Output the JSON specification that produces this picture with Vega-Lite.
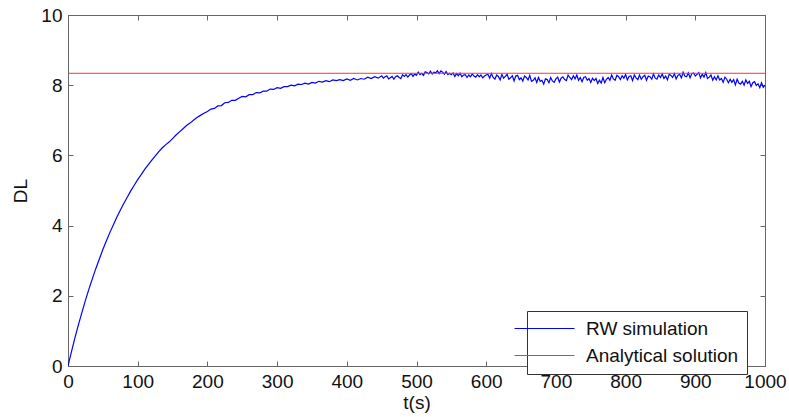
{
"$schema":"https://vega.github.io/schema/vega-lite/v6.json",
"width":697,"height":351,
"autosize":{"type":"none"},
"padding":{"left":68,"top":15,"right":24,"bottom":51},
"background":"white",
"config":{"font":"Liberation Sans","view":{"stroke":"#666","strokeWidth":1},
 "axis":{"grid":false,"domainColor":"#666","tickColor":"#666","labelColor":"#111","labelFontSize":19,"titleFontSize":19,"titleFontWeight":"normal","titleColor":"#111"}},
"datasets":{
"rw":[
{"t":0,"v":0},{"t":5,"v":0.41},{"t":10,"v":0.81},{"t":15,"v":1.18},{"t":20,"v":1.53},{"t":25,"v":1.87},{"t":30,"v":2.19},{"t":35,"v":2.49},{"t":40,"v":2.78},{"t":45,"v":3.05},{"t":50,"v":3.32},{"t":55,"v":3.56},{"t":60,"v":3.80},{"t":65,"v":4.02},{"t":70,"v":4.24},{"t":75,"v":4.44},{"t":80,"v":4.63},{"t":85,"v":4.81},{"t":90,"v":4.99},{"t":95,"v":5.15},{"t":100,"v":5.31},{"t":105,"v":5.45},{"t":110,"v":5.60},{"t":115,"v":5.73},{"t":120,"v":5.86},{"t":125,"v":5.98},{"t":130,"v":6.10},{"t":135,"v":6.21},{"t":140,"v":6.30},{"t":145,"v":6.38},{"t":150,"v":6.48},{"t":155,"v":6.58},{"t":160,"v":6.67},{"t":165,"v":6.76},{"t":170,"v":6.85},{"t":175,"v":6.92},{"t":180,"v":7.00},{"t":185,"v":7.08},{"t":190,"v":7.14},{"t":195,"v":7.20},
{"t":200,"v":7.25},{"t":205,"v":7.32},{"t":210,"v":7.34},{"t":215,"v":7.41},{"t":220,"v":7.42},{"t":225,"v":7.50},{"t":230,"v":7.51},{"t":235,"v":7.57},{"t":240,"v":7.57},{"t":245,"v":7.63},{"t":250,"v":7.68},{"t":255,"v":7.67},{"t":260,"v":7.73},{"t":265,"v":7.73},{"t":270,"v":7.79},{"t":275,"v":7.78},{"t":280,"v":7.83},{"t":285,"v":7.83},{"t":290,"v":7.89},{"t":295,"v":7.88},{"t":300,"v":7.93},{"t":305,"v":7.91},{"t":310,"v":7.96},{"t":315,"v":7.96},{"t":320,"v":8.00},{"t":325,"v":7.98},{"t":330,"v":8.03},{"t":335,"v":8.02},{"t":340,"v":8.06},{"t":345,"v":8.03},{"t":350,"v":8.08},{"t":355,"v":8.06},{"t":360,"v":8.11},{"t":365,"v":8.09},{"t":370,"v":8.13},{"t":375,"v":8.10},{"t":380,"v":8.15},{"t":385,"v":8.13},{"t":390,"v":8.16},{"t":395,"v":8.13},{"t":400,"v":8.18},{"t":405,"v":8.14},{"t":410,"v":8.19},{"t":415,"v":8.15},{"t":420,"v":8.19},{"t":425,"v":8.17},{"t":430,"v":8.23},{"t":435,"v":8.19},{"t":440,"v":8.24},{"t":445,"v":8.20},
{"t":450,"v":8.27},{"t":452.5,"v":8.20},{"t":455,"v":8.24},{"t":457.5,"v":8.27},{"t":460,"v":8.18},{"t":462.5,"v":8.21},{"t":465,"v":8.25},{"t":467.5,"v":8.17},{"t":470,"v":8.24},{"t":472.5,"v":8.27},{"t":475,"v":8.22},{"t":477.5,"v":8.19},{"t":480,"v":8.30},{"t":482.5,"v":8.25},{"t":485,"v":8.30},{"t":487.5,"v":8.23},{"t":490,"v":8.29},{"t":492.5,"v":8.33},{"t":495,"v":8.25},{"t":497.5,"v":8.32},{"t":500,"v":8.28},{"t":502.5,"v":8.37},{"t":505,"v":8.30},{"t":507.5,"v":8.34},{"t":510,"v":8.28},{"t":512.5,"v":8.38},{"t":515,"v":8.36},{"t":517.5,"v":8.32},{"t":520,"v":8.40},{"t":522.5,"v":8.32},{"t":525,"v":8.37},{"t":527.5,"v":8.35},{"t":530,"v":8.41},{"t":532.5,"v":8.33},{"t":535,"v":8.41},{"t":537.5,"v":8.37},{"t":540,"v":8.31},{"t":542.5,"v":8.39},{"t":545,"v":8.30},{"t":547.5,"v":8.34},{"t":550,"v":8.30},{"t":552.5,"v":8.35},{"t":555,"v":8.25},{"t":557.5,"v":8.33},{"t":560,"v":8.27},{"t":562.5,"v":8.34},{"t":565,"v":8.24},{"t":567.5,"v":8.29},{"t":570,"v":8.30},{"t":572.5,"v":8.22},{"t":575,"v":8.29},{"t":577.5,"v":8.24},{"t":580,"v":8.32},{"t":582.5,"v":8.26},{"t":585,"v":8.23},{"t":587.5,"v":8.30},{"t":590,"v":8.24},{"t":592.5,"v":8.29},{"t":595,"v":8.21},{"t":597.5,"v":8.26},{"t":600,"v":8.29},
{"t":602.5,"v":8.31},{"t":605,"v":8.20},{"t":607.5,"v":8.33},{"t":610,"v":8.22},{"t":612.5,"v":8.17},{"t":615,"v":8.29},{"t":617.5,"v":8.25},{"t":620,"v":8.15},{"t":622.5,"v":8.31},{"t":625,"v":8.20},{"t":627.5,"v":8.25},{"t":630,"v":8.31},{"t":632.5,"v":8.17},{"t":635,"v":8.21},{"t":637.5,"v":8.27},{"t":640,"v":8.12},{"t":642.5,"v":8.26},{"t":645,"v":8.28},{"t":647.5,"v":8.16},{"t":650,"v":8.21},{"t":652.5,"v":8.12},{"t":655,"v":8.26},{"t":657.5,"v":8.22},{"t":660,"v":8.15},{"t":662.5,"v":8.28},{"t":665,"v":8.11},{"t":667.5,"v":8.14},{"t":670,"v":8.21},{"t":672.5,"v":8.08},{"t":675,"v":8.22},{"t":677.5,"v":8.11},{"t":680,"v":8.14},{"t":682.5,"v":8.03},{"t":685,"v":8.18},{"t":687.5,"v":8.16},{"t":690,"v":8.07},{"t":692.5,"v":8.22},{"t":695,"v":8.12},{"t":697.5,"v":8.08},{"t":700,"v":8.18},
{"t":702.5,"v":8.23},{"t":705,"v":8.09},{"t":707.5,"v":8.20},{"t":710,"v":8.24},{"t":712.5,"v":8.16},{"t":715,"v":8.13},{"t":717.5,"v":8.29},{"t":720,"v":8.22},{"t":722.5,"v":8.16},{"t":725,"v":8.27},{"t":727.5,"v":8.18},{"t":730,"v":8.29},{"t":732.5,"v":8.14},{"t":735,"v":8.22},{"t":737.5,"v":8.10},{"t":740,"v":8.22},{"t":742.5,"v":8.24},{"t":745,"v":8.14},{"t":747.5,"v":8.19},{"t":750,"v":8.08},{"t":752.5,"v":8.20},{"t":755,"v":8.13},{"t":757.5,"v":8.19},{"t":760,"v":8.05},{"t":762.5,"v":8.14},{"t":765,"v":8.06},{"t":767.5,"v":8.22},{"t":770,"v":8.07},{"t":772.5,"v":8.17},{"t":775,"v":8.22},{"t":777.5,"v":8.14},{"t":780,"v":8.29},{"t":782.5,"v":8.18},{"t":785,"v":8.14},{"t":787.5,"v":8.28},{"t":790,"v":8.24},{"t":792.5,"v":8.16},{"t":795,"v":8.27},{"t":797.5,"v":8.20},{"t":800,"v":8.31},
{"t":802.5,"v":8.15},{"t":805,"v":8.25},{"t":807.5,"v":8.27},{"t":810,"v":8.13},{"t":812.5,"v":8.29},{"t":815,"v":8.21},{"t":817.5,"v":8.16},{"t":820,"v":8.29},{"t":822.5,"v":8.17},{"t":825,"v":8.24},{"t":827.5,"v":8.28},{"t":830,"v":8.14},{"t":832.5,"v":8.26},{"t":835,"v":8.24},{"t":837.5,"v":8.17},{"t":840,"v":8.32},{"t":842.5,"v":8.20},{"t":845,"v":8.17},{"t":847.5,"v":8.29},{"t":850,"v":8.22},{"t":852.5,"v":8.32},{"t":855,"v":8.19},{"t":857.5,"v":8.26},{"t":860,"v":8.15},{"t":862.5,"v":8.31},{"t":865,"v":8.28},{"t":867.5,"v":8.22},{"t":870,"v":8.33},{"t":872.5,"v":8.18},{"t":875,"v":8.28},{"t":877.5,"v":8.31},{"t":880,"v":8.21},{"t":882.5,"v":8.37},{"t":885,"v":8.26},{"t":887.5,"v":8.24},{"t":890,"v":8.35},{"t":892.5,"v":8.21},{"t":895,"v":8.33},{"t":897.5,"v":8.35},{"t":900,"v":8.26},
{"t":902.5,"v":8.31},{"t":905,"v":8.36},{"t":907.5,"v":8.21},{"t":910,"v":8.31},{"t":912.5,"v":8.23},{"t":915,"v":8.36},{"t":917.5,"v":8.19},{"t":920,"v":8.23},{"t":922.5,"v":8.29},{"t":925,"v":8.14},{"t":927.5,"v":8.24},{"t":930,"v":8.15},{"t":932.5,"v":8.27},{"t":935,"v":8.15},{"t":937.5,"v":8.19},{"t":940,"v":8.08},{"t":942.5,"v":8.23},{"t":945,"v":8.17},{"t":947.5,"v":8.07},{"t":950,"v":8.17},{"t":952.5,"v":8.08},{"t":955,"v":8.16},{"t":957.5,"v":8.01},{"t":960,"v":8.17},{"t":962.5,"v":8.06},{"t":965,"v":8.03},{"t":967.5,"v":8.11},{"t":970,"v":8.00},{"t":972.5,"v":8.15},{"t":975,"v":8.05},{"t":977.5,"v":8.11},{"t":980,"v":7.96},{"t":982.5,"v":8.07},{"t":985,"v":8.10},{"t":987.5,"v":7.99},{"t":990,"v":8.04},{"t":992.5,"v":7.93},{"t":995,"v":8.07},{"t":997.5,"v":7.94},{"t":1000,"v":8.00}
],
"an":[{"t":0,"v":8.34},{"t":1000,"v":8.34}]
},
"layer":[
{"data":{"name":"rw"},"mark":{"type":"line","strokeWidth":1.2,"clip":true},
 "encoding":{
  "x":{"field":"t","type":"quantitative","scale":{"domain":[0,1000],"nice":false,"zero":false},
   "axis":{"orient":"bottom","values":[0,100,200,300,400,500,600,700,800,900,1000],"format":"d","tickSize":-5,"labelPadding":11,"title":"t(s)","titlePadding":2,"labelFlush":false}},
  "y":{"field":"v","type":"quantitative","scale":{"domain":[0,10],"nice":false},
   "axis":{"orient":"left","values":[0,2,4,6,8,10],"tickSize":-5,"labelPadding":11,"title":"DL","titlePadding":10,"labelFlush":false}},
  "color":{"datum":"RW simulation","type":"nominal","scale":{"domain":["RW simulation","Analytical solution"],"range":["#0000ff","#f03a3a"]},
   "legend":{"title":null,"orient":"none","legendX":459,"legendY":296,"symbolType":"M-5,0H5","symbolSize":144,"symbolStrokeWidth":1,"labelFontSize":19,"labelColor":"#111","labelOffset":32,"rowPadding":7,"padding":8,"strokeColor":"#333","fillColor":"white","cornerRadius":0,
    "encode":{"symbols":{"update":{"stroke":{"scale":"color","field":"value"}}}}}}
 }},
{"data":{"name":"an"},"mark":{"type":"line","strokeWidth":1},
 "encoding":{
  "x":{"field":"t","type":"quantitative","axis":{"orient":"top","values":[0,100,200,300,400,500,600,700,800,900,1000],"tickSize":-5,"labels":false,"title":null}},
  "y":{"field":"v","type":"quantitative","axis":{"orient":"right","values":[0,2,4,6,8,10],"tickSize":-5,"labels":false,"title":null}},
  "color":{"datum":"Analytical solution","type":"nominal"}
 }}
],
"resolve":{"axis":{"x":"independent","y":"independent"}}
}
